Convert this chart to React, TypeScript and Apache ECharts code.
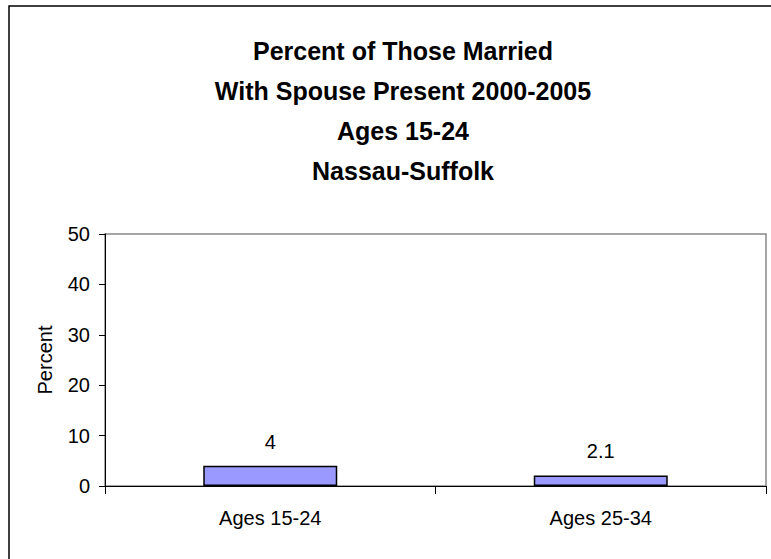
import React, { useEffect, useRef } from "react";
import * as echarts from "echarts";

// Chart data
const categories: string[] = ["Ages 15-24", "Ages 25-34"];
const percentValues: number[] = [4, 2.1];
const titleLines: string[] = [
  "Percent of Those Married",
  "With Spouse Present 2000-2005",
  "Ages 15-24",
  "Nassau-Suffolk",
];
const yAxisTitle = "Percent";
const yMin = 0;
const yMax = 50;
const yStep = 10;

const FONT = '"Liberation Sans", Arial, Helvetica, sans-serif';

export default function App() {
  const ref = useRef<HTMLDivElement | null>(null);

  useEffect(() => {
    if (!ref.current) return;
    const chart = echarts.init(ref.current, null, { renderer: "svg" });

    chart.setOption({
      animation: false,
      backgroundColor: "#ffffff",
      title: {
        text: titleLines.join("\n"),
        left: 398,
        top: 26,
        textAlign: "center",
        textStyle: {
          fontFamily: FONT,
          fontSize: 25,
          fontWeight: "bold",
          color: "#000000",
          lineHeight: 40,
        },
      },
      graphic: [
        {
          type: "rect",
          silent: true,
          shape: { x: 9, y: 6, width: 778, height: 620 },
          style: { fill: "none", stroke: "#000000", lineWidth: 1.5 },
        },
      ],
      grid: {
        left: 105,
        top: 234,
        right: 5,
        bottom: 73,
        show: true,
        borderColor: "#888888",
        borderWidth: 1.5,
        backgroundColor: "transparent",
      },
      xAxis: {
        type: "category",
        data: categories,
        axisLine: { show: true, lineStyle: { color: "#000000", width: 1 } },
        axisTick: { show: true, length: 8, lineStyle: { color: "#000000" } },
        axisLabel: {
          fontFamily: FONT,
          fontSize: 20,
          color: "#000000",
          margin: 22,
        },
        splitLine: { show: false },
      },
      yAxis: {
        type: "value",
        min: yMin,
        max: yMax,
        interval: yStep,
        name: yAxisTitle,
        nameLocation: "middle",
        nameGap: 50,
        nameTextStyle: { fontFamily: FONT, fontSize: 20, color: "#000000" },
        axisLine: { show: true, lineStyle: { color: "#000000", width: 1 } },
        axisTick: { show: true, length: 6, lineStyle: { color: "#000000" } },
        axisLabel: {
          fontFamily: FONT,
          fontSize: 20,
          color: "#000000",
          margin: 15,
        },
        splitLine: { show: false },
      },
      series: [
        {
          type: "bar",
          data: percentValues,
          barWidth: 134,
          itemStyle: {
            color: "#9999ff",
            borderColor: "#000000",
            borderWidth: 1.5,
          },
          label: {
            show: true,
            position: "top",
            distance: 14,
            fontFamily: FONT,
            fontSize: 20,
            color: "#000000",
          },
        },
      ],
    });

    return () => {
      chart.dispose();
    };
  }, []);

  return (
    <div
      ref={ref}
      style={{ position: "absolute", left: 0, top: 0, width: 771, height: 559 }}
    />
  );
}
